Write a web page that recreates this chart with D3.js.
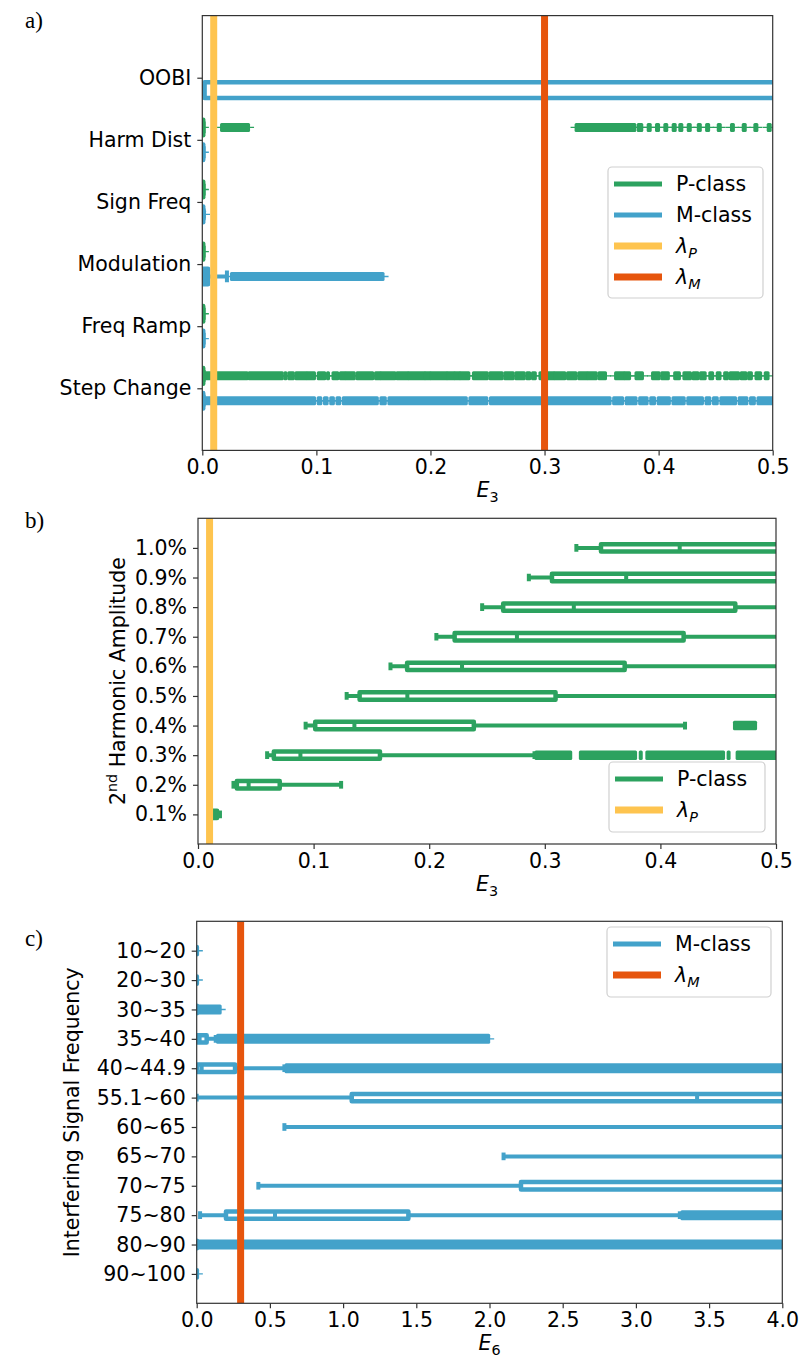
<!DOCTYPE html>
<html>
<head>
<meta charset="utf-8">
<script src="https://cdn.jsdelivr.net/npm/d3@7"></script>
<style>
  body { margin: 0; background: #fff; }
  text { font-family: "DejaVu Sans", sans-serif; }
</style>
</head>
<body>
<svg id="fig" width="800" height="1363"></svg>
<script>
// colours
const green = "#2ca25f", blue = "#43a2ca", yellow = "#fec44f", orange = "#e6550d";

// thresholds
const lambdaP = 0.01;
const lambdaM = 0.3;

// ---------- panel a ----------
const catsA = ["OOBI", "Harm Dist", "Sign Freq", "Modulation", "Freq Ramp", "Step Change"];
const ticksA = [0, 0.1, 0.2, 0.3, 0.4, 0.5];
// box stats: [whisker low, Q1, median, Q3, whisker high]
const pStatsA = [
  null,
  [0, 0, 0.0003, 0.0008, 0.0012],
  [0, 0, 0.0003, 0.0008, 0.0012],
  [0, 0, 0.0003, 0.0008, 0.0012],
  [0, 0, 0.0003, 0.0008, 0.0012],
  [0, 0, 0.0003, 0.0008, 0.0012]
];
const mStatsA = [
  [0, 0.002, 0.8, 1.2, 1.5],
  [0, 0, 0.0003, 0.0008, 0.0012],
  [0, 0, 0.0003, 0.0008, 0.0012],
  [0, 0.001, 0.003, 0.005, 0.0216],
  [0, 0, 0.0003, 0.0008, 0.0012],
  [0, 0, 0.0003, 0.0008, 0.0012]
];
// single outliers
const pFliersA = [[], [0.0005], [0.0005], [0.0005], [0.0005], []];
const mFliersA = [[], [0.0005], [0.0015], [], [0.0005], []];
// runs of outliers close enough to merge into one mark
const pRunsA = [
  [],
  [[0.0173, 0.0401], [0.3281, 0.3787], [0.3826, 0.3848], [0.3913, 0.3922], [0.3986, 0.3995], [0.4059, 0.4067],
   [0.4132, 0.4141], [0.4190, 0.4199], [0.4264, 0.4273], [0.4352, 0.4361], [0.4425, 0.4434], [0.4527, 0.4536],
   [0.4643, 0.4651], [0.4746, 0.4755], [0.4848, 0.4857], [0.4965, 0.4974]],
  [], [], [],
  [[0.0017, 0.0389], [0.0415, 0.0697], [0.0729, 0.0729], [0.0762, 0.0794], [0.0826, 0.0907], [0.0924, 0.0979],
   [0.1021, 0.1069], [0.1102, 0.1102], [0.1150, 0.1183], [0.1215, 0.1247], [0.1264, 0.1328], [0.1361, 0.1490],
   [0.1523, 0.1555], [0.1571, 0.1685], [0.1711, 0.1798], [0.1814, 0.1944], [0.1960, 0.1992], [0.2008, 0.2138],
   [0.2154, 0.2203], [0.2219, 0.2251], [0.2267, 0.2332], [0.2381, 0.2494], [0.2526, 0.2624], [0.2656, 0.2721],
   [0.2753, 0.2818], [0.2850, 0.2866], [0.2899, 0.2915], [0.2964, 0.2996], [0.3028, 0.3077], [0.3093, 0.3174],
   [0.3206, 0.3271], [0.3304, 0.3368], [0.3385, 0.3449], [0.3482, 0.3530], [0.3627, 0.3692], [0.3708, 0.3741],
   [0.3806, 0.3854], [0.3951, 0.4000], [0.4032, 0.4081], [0.4145, 0.4178], [0.4226, 0.4275], [0.4307, 0.4340],
   [0.4372, 0.4404], [0.4453, 0.4469], [0.4518, 0.4534], [0.4583, 0.4599], [0.4631, 0.4696], [0.4728, 0.4761],
   [0.4793, 0.4809], [0.4858, 0.4890], [0.4939, 0.4955]]
];
const mRunsA = [
  [], [], [],
  [[0.026, 0.158]],
  [],
  [[0.002, 0.098], [0.102, 0.1035], [0.1075, 0.109], [0.113, 0.1145], [0.1185, 0.12], [0.124, 0.153],
   [0.157, 0.16], [0.164, 0.231], [0.235, 0.249], [0.253, 0.357], [0.361, 0.368], [0.372, 0.3798],
   [0.3838, 0.3895], [0.3935, 0.396], [0.400, 0.409], [0.413, 0.422], [0.426, 0.438], [0.442, 0.4445],
   [0.4485, 0.451], [0.455, 0.467], [0.471, 0.477], [0.481, 0.4835], [0.4875, 0.52]]
];

// ---------- panel b ----------
const catsB = ["1.0%", "0.9%", "0.8%", "0.7%", "0.6%", "0.5%", "0.4%", "0.3%", "0.2%", "0.1%"];
const ticksB = [0, 0.1, 0.2, 0.3, 0.4, 0.5];
const pStatsB = [
  [0.3273, 0.3486, 0.4167, 0.56, 0.7],
  [0.2862, 0.3062, 0.3704, 0.55, 0.7],
  [0.2458, 0.2640, 0.3251, 0.4648, 0.6],
  [0.2062, 0.2220, 0.2759, 0.4201, 0.6],
  [0.1665, 0.1809, 0.2284, 0.3691, 0.6],
  [0.1286, 0.1398, 0.1811, 0.3093, 0.6],
  [0.0931, 0.1014, 0.1353, 0.2386, 0.4213],
  [0.0598, 0.0656, 0.0886, 0.1574, 0.2911],
  [0.0307, 0.0336, 0.0438, 0.0707, 0.1238],
  [0.0110, 0.0125, 0.0150, 0.0165, 0.0190]
];
const pFliersB = [[], [], [], [], [], [], [], [0.383, 0.459], [], []];
const pRunsB = [[], [], [], [], [], [],
  [[0.4645, 0.4819]],
  [[0.2928, 0.3220], [0.3312, 0.3781], [0.3887, 0.4542], [0.4668, 0.52]],
  [], []];

// ---------- panel c ----------
const catsC = ["10~20", "20~30", "30~35", "35~40", "40~44.9", "55.1~60", "60~65", "65~70", "70~75", "75~80", "80~90", "90~100"];
const ticksC = [0, 0.5, 1.0, 1.5, 2.0, 2.5, 3.0, 3.5, 4.0];
const mStatsC = [
  [0, 0, 0.0005, 0.001, 0.002],
  [0, 0, 0.0005, 0.001, 0.002],
  [0, 0, 0.0005, 0.001, 0.003],
  [0, 0.004, 0.02, 0.068, 0.13],
  [0, 0.004, 0.034, 0.262, 0.599],
  [0, 1.059, 3.418, 4.6, 5.2],
  [0.599, 4.6, 5.0, 5.4, 6.0],
  [2.096, 4.6, 5.0, 5.4, 6.0],
  [0.421, 2.215, 4.6, 5.0, 6.0],
  [0.023, 0.2, 0.535, 1.446, 3.3],
  [0, 0, 0.0005, 0.001, 0.002],
  [0, 0, 0.0005, 0.001, 0.002]
];
const mFliersC = [[0.001], [0.001], [], [], [], [], [], [], [], [], [], [0.001]];
const mRunsC = [[], [],
  [[0.004, 0.157]],
  [[0.146, 1.991]],
  [[0.614, 4.2]],
  [], [], [], [],
  [[3.318, 4.2]],
  [[0.012, 4.2]],
  []];

// ---------- drawing ----------
const svg = d3.select("#fig");
const fs = 20.5;

function mathLabel(sel, main, sub, subItalic) {
  sel.append("tspan").attr("font-style", "italic").text(main);
  sel.append("tspan").attr("font-size", fs * 0.7).attr("dy", 4.5)
    .attr("font-style", subItalic ? "italic" : "normal").text(sub);
}

function drawPanel(p) {
  const g = svg.append("g");
  const x = d3.scaleLinear().domain(p.xDomain).range([p.left, p.right]);
  const n = p.cats.length;
  const y = d3.scaleLinear().domain([0, n + 1]).range([p.top, p.bottom]);
  const unit = y(1) - y(0);
  const hh = unit * 0.125;

  svg.append("clipPath").attr("id", "clip-" + p.id).append("rect")
    .attr("x", p.left).attr("y", p.top)
    .attr("width", p.right - p.left).attr("height", p.bottom - p.top);
  const plot = g.append("g").attr("clip-path", `url(#clip-${p.id})`);

  p.series.forEach(s => {
    s.stats.forEach((st, i) => {
      const cy = y(i + 1 + s.offset);
      const bg = plot.append("g").attr("stroke", s.color).attr("fill", "none");
      if (st) {
        const [wl, q1, md, q3, wh] = st;
        // whiskers
        bg.append("line").attr("x1", x(wl)).attr("x2", x(q1)).attr("y1", cy).attr("y2", cy).attr("stroke-width", 4);
        bg.append("line").attr("x1", x(q3)).attr("x2", x(wh)).attr("y1", cy).attr("y2", cy).attr("stroke-width", 4);
        // caps
        [wl, wh].forEach(v => {
          bg.append("line").attr("x1", x(v)).attr("x2", x(v))
            .attr("y1", cy - hh / 2).attr("y2", cy + hh / 2)
            .attr("stroke-width", 4).attr("stroke-linecap", "square");
        });
        // box
        bg.append("rect").attr("x", x(q1)).attr("y", cy - hh)
          .attr("width", Math.max(0, x(q3) - x(q1))).attr("height", 2 * hh)
          .attr("stroke-width", 4.5).attr("stroke-linejoin", "round");
        // median
        bg.append("line").attr("x1", x(md)).attr("x2", x(md))
          .attr("y1", cy - hh).attr("y2", cy + hh).attr("stroke-width", 4);
      }
      // outliers
      const pts = s.runs[i].concat(s.fliers[i].map(v => [v, v]));
      if (p.thin > 0) {
        plot.selectAll(null).data(pts).join("line")
          .attr("x1", d => x(d[0]) - p.thin).attr("x2", d => x(d[1]) + p.thin)
          .attr("y1", cy).attr("y2", cy)
          .attr("stroke", s.color).attr("stroke-width", 1.4);
      }
      plot.selectAll(null).data(pts).join("rect")
        .attr("x", d => x(d[0]) - 2).attr("width", d => x(d[1]) - x(d[0]) + 4)
        .attr("y", cy - p.mh / 2).attr("height", p.mh)
        .attr("rx", 1.5).attr("fill", s.color);
    });
  });

  // threshold lines
  p.vlines.forEach(v => {
    plot.append("line").attr("x1", x(v.value)).attr("x2", x(v.value))
      .attr("y1", p.top).attr("y2", p.bottom)
      .attr("stroke", v.color).attr("stroke-width", 7);
  });

  // axes
  const xa = g.append("g").attr("transform", `translate(0,${p.bottom})`)
    .call(d3.axisBottom(x).tickValues(p.ticks).tickFormat(p.fmt).tickSize(5).tickPadding(4));
  const ya = g.append("g").attr("transform", `translate(${p.left},0)`)
    .call(d3.axisLeft(y).tickValues(d3.range(1, n + 1)).tickFormat(i => p.cats[i - 1]).tickSize(5).tickPadding(6));
  [xa, ya].forEach(a => {
    a.select(".domain").remove();
    a.selectAll(".tick line").attr("stroke", "#333").attr("stroke-width", 1.2);
    a.selectAll(".tick text").attr("font-size", fs).attr("fill", "#000")
      .attr("font-family", "DejaVu Sans, sans-serif");
  });

  // frame
  g.append("rect").attr("x", p.left).attr("y", p.top)
    .attr("width", p.right - p.left).attr("height", p.bottom - p.top)
    .attr("fill", "none").attr("stroke", "#333").attr("stroke-width", 1.2);

  // x label
  const xl = g.append("text").attr("x", (p.left + p.right) / 2).attr("y", p.bottom + 47)
    .attr("text-anchor", "middle").attr("font-size", fs);
  mathLabel(xl, "E", p.xsub, false);

  // y label
  if (p.ylabel) p.ylabel(g, y(0) + (y(n + 1) - y(0)) / 2);

  // panel letter
  g.append("text").attr("x", 25).attr("y", p.letterY).attr("font-size", 23)
    .style("font-family", "Liberation Serif, serif").text(p.letter);

  // legend
  const L = p.legend;
  const lg = g.append("g");
  lg.append("rect").attr("x", L.x).attr("y", L.y).attr("width", L.w).attr("height", L.h)
    .attr("rx", 4).attr("fill", "#fff").attr("fill-opacity", 0.8)
    .attr("stroke", "#d0d0d0").attr("stroke-width", 1.2);
  L.items.forEach((it, k) => {
    const ly = L.y + 17 + k * 31;
    lg.append("line").attr("x1", L.x + 6).attr("x2", L.x + 54).attr("y1", ly).attr("y2", ly)
      .attr("stroke", it.color).attr("stroke-width", it.lw);
    const t = lg.append("text").attr("x", L.x + 68).attr("y", ly + 7).attr("font-size", fs);
    if (it.sub) mathLabel(t, it.name, it.sub, true);
    else t.text(it.name);
  });
}

const fmt1 = d3.format(".1f");
const itemP = { name: "P-class", color: green, lw: 5 };
const itemM = { name: "M-class", color: blue, lw: 5 };
const itemLP = { name: "λ", sub: "P", color: yellow, lw: 7 };
const itemLM = { name: "λ", sub: "M", color: orange, lw: 7 };

drawPanel({
  id: "a", left: 202.3, right: 772.7, top: 15.6, bottom: 450.4,
  xDomain: [0, 0.5], ticks: ticksA, fmt: fmt1, cats: catsA, thin: 6, mh: 9,
  series: [
    { stats: pStatsA, fliers: pFliersA, runs: pRunsA, color: green, offset: -0.2 },
    { stats: mStatsA, fliers: mFliersA, runs: mRunsA, color: blue, offset: 0.2 }
  ],
  vlines: [{ value: lambdaP, color: yellow }, { value: lambdaM, color: orange }],
  xsub: "3", letter: "a)", letterY: 28,
  legend: { x: 608, y: 167, w: 155, h: 131, items: [itemP, itemM, itemLP, itemLM] }
});

drawPanel({
  id: "b", left: 198, right: 776, top: 518.3, bottom: 844,
  xDomain: [0, 0.5], ticks: ticksB, fmt: fmt1, cats: catsB, thin: 0, mh: 9.5,
  series: [{ stats: pStatsB, fliers: pFliersB, runs: pRunsB, color: green, offset: 0 }],
  vlines: [{ value: lambdaP, color: yellow }],
  xsub: "3", letter: "b)", letterY: 528,
  ylabel: (g, cy) => {
    const t = g.append("text").attr("transform", `translate(125,${cy}) rotate(-90)`)
      .attr("text-anchor", "middle").attr("font-size", fs);
    t.append("tspan").text("2");
    t.append("tspan").attr("font-size", fs * 0.7).attr("dy", -8).text("nd");
    t.append("tspan").attr("dy", 8).text(" Harmonic Amplitude");
  },
  legend: { x: 609, y: 762, w: 156, h: 70, items: [itemP, itemLP] }
});

drawPanel({
  id: "c", left: 196.7, right: 782.3, top: 921.3, bottom: 1303.3,
  xDomain: [0, 4], ticks: ticksC, fmt: fmt1, cats: catsC, thin: 6, mh: 10,
  series: [{ stats: mStatsC, fliers: mFliersC, runs: mRunsC, color: blue, offset: 0 }],
  vlines: [{ value: lambdaM, color: orange }],
  xsub: "6", letter: "c)", letterY: 946,
  ylabel: (g, cy) => {
    g.append("text").attr("transform", `translate(79,${cy}) rotate(-90)`)
      .attr("text-anchor", "middle").attr("font-size", fs).text("Interfering Signal Frequency");
  },
  legend: { x: 607, y: 927, w: 164, h: 70, items: [itemM, itemLM] }
});
</script>
</body>
</html>
